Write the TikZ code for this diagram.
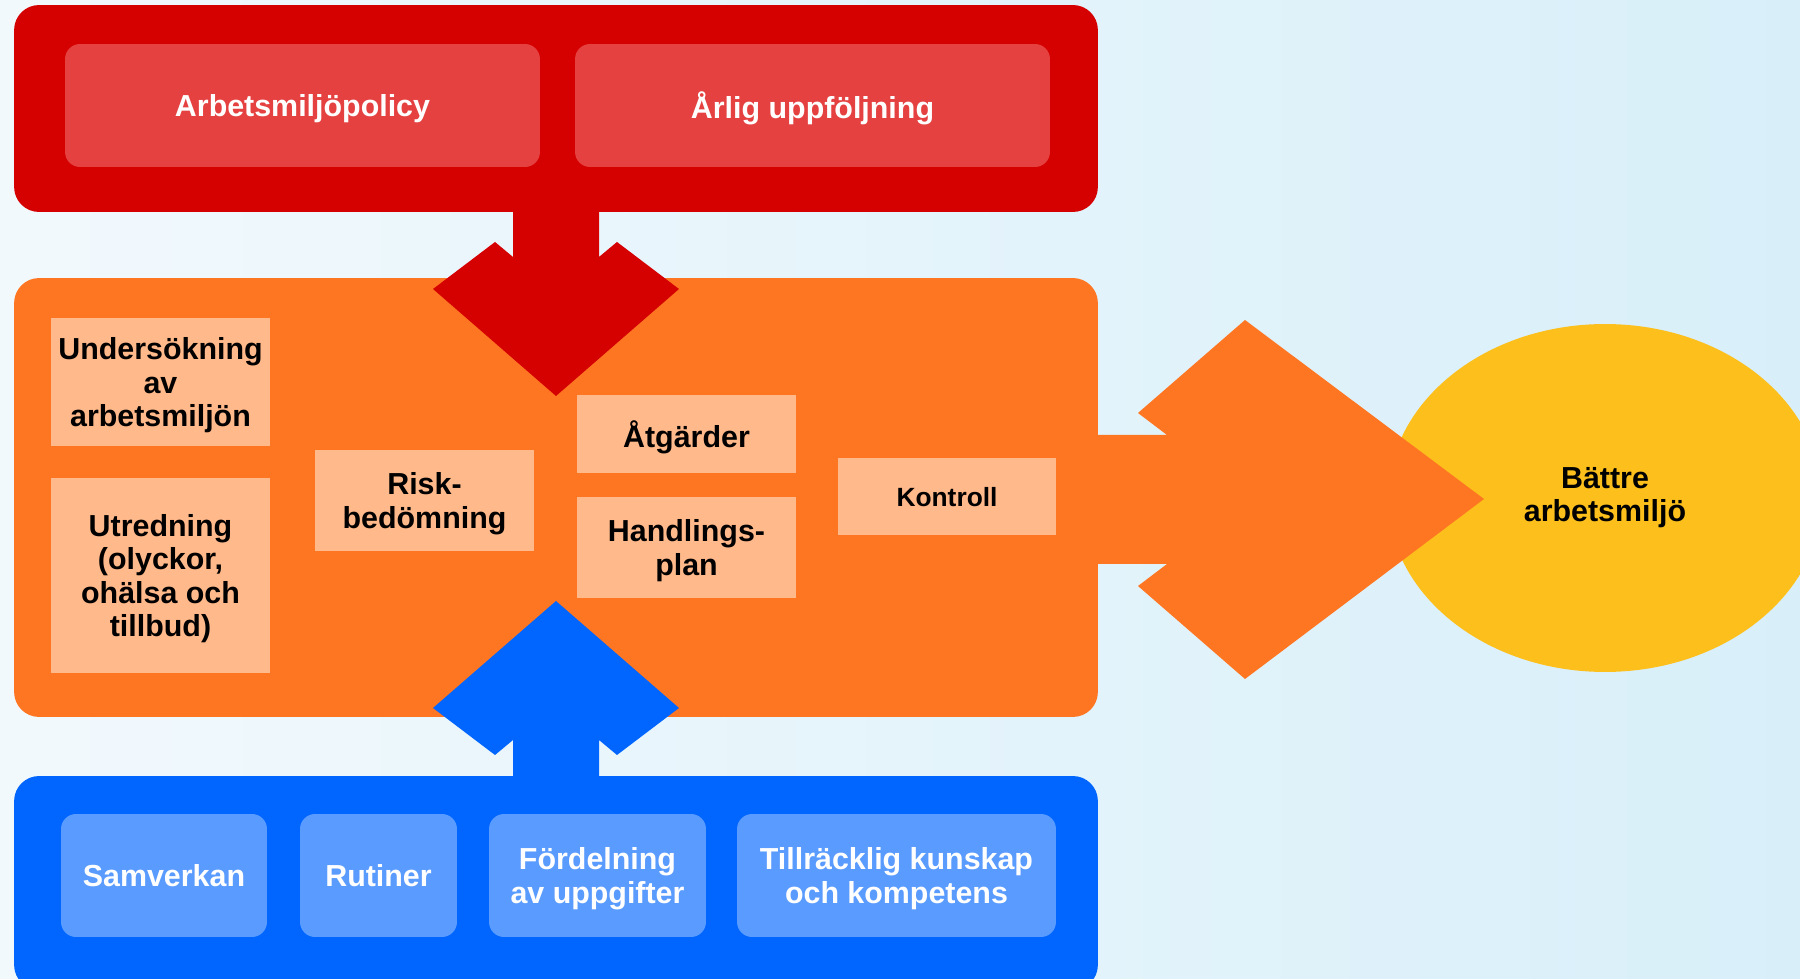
\documentclass[tikz,border=0pt]{standalone}
\usepackage{fontspec}
\setmainfont{Liberation Sans}
\usetikzlibrary{shapes.geometric}

\definecolor{rodmork}{RGB}{213,0,0}
\definecolor{rodljus}{RGB}{229,65,65}
\definecolor{orangemork}{RGB}{255,118,34}
\definecolor{persika}{RGB}{255,185,138}
\definecolor{blamork}{RGB}{0,102,255}
\definecolor{blaljus}{RGB}{90,155,255}
\definecolor{gul}{RGB}{252,191,28}
\definecolor{bgvanster}{RGB}{242,249,253}
\definecolor{bghoger}{RGB}{216,239,249}

\newcommand{\rutfont}{\bfseries\fontsize{17.3}{18.8}\selectfont}

\begin{document}
\begin{tikzpicture}[x=0.02cm, y=-0.02cm,
    ram/.style={rounded corners=0.5cm, inner sep=0pt, minimum width=21.68cm},
    ljusruta/.style={rounded corners=0.3cm, inner sep=0pt, text=white, text depth=0pt,
        font=\rutfont, align=center, minimum height=2.46cm},
    persikaruta/.style={fill=persika, inner sep=0pt, font=\rutfont, text depth=0pt,
        align=center, minimum width=4.38cm}]

    %-------------------------
    % Bakgrund
    %-------------------------
    \useasboundingbox (0,0) rectangle (1800,979);
    \clip (0,0) rectangle (1800,979);
    \shade[left color=bgvanster, right color=bghoger] (0,0) rectangle (1800,979);

    %-------------------------
    % Mal
    %-------------------------
    \node[ellipse, fill=gul, inner sep=0pt, minimum width=8.68cm,
        minimum height=6.96cm, font=\rutfont, align=center]
        (battre) at (1605,498) {Bättre\\arbetsmiljö};

    %-------------------------
    % Mitten (orange)
    %-------------------------
    \node[ram, fill=orangemork, minimum height=8.78cm] (arbete) at (556,497.5) {};

    % Pil mot malet
    \fill[orangemork] (1090,435) -- (1167,435) -- (1138,413) -- (1245,320)
        -- (1484,499) -- (1245,679) -- (1138,586) -- (1167,564) -- (1090,564) -- cycle;

    %-------------------------
    % Overst (rod)
    %-------------------------
    \node[ram, fill=rodmork, minimum height=4.14cm] (ledning) at (556,108.5) {};

    \fill[rodmork] (513,200) -- (513,257) -- (495,242) -- (433,289) -- (556,396)
        -- (679,289) -- (617,242) -- (599,257) -- (599,200) -- cycle;

    \node[ljusruta, fill=rodljus, minimum width=9.5cm] (policy) at (302.5,105.5) {Arbetsmiljöpolicy};
    \node[ljusruta, fill=rodljus, minimum width=9.5cm] (uppfoljning) at (812.5,105.5) {Årlig uppföljning};

    %-------------------------
    % Nederst (bla)
    %-------------------------
    \node[ram, fill=blamork, minimum height=4.28cm] (grund) at (556,883) {};

    \fill[blamork] (513,790) -- (513,740) -- (495,755) -- (433,708) -- (556,601)
        -- (679,708) -- (617,755) -- (599,740) -- (599,790) -- cycle;

    \node[ljusruta, fill=blaljus, minimum width=4.12cm] (samverkan) at (164,875.5) {Samverkan};
    \node[ljusruta, fill=blaljus, minimum width=3.14cm] (rutiner) at (378.5,875.5) {Rutiner};
    \node[ljusruta, fill=blaljus, minimum width=4.34cm] (fordelning) at (597.5,875.5) {Fördelning\\av uppgifter};
    \node[ljusruta, fill=blaljus, minimum width=6.38cm] (kunskap) at (896.5,875.5) {Tillräcklig kunskap\\och kompetens};

    %-------------------------
    % Rutor i mitten
    %-------------------------
    \node[persikaruta, minimum height=2.56cm] (undersokning) at (160.5,382) {Undersökning\\av\\arbetsmiljön};
    \node[persikaruta, minimum height=3.9cm] (utredning) at (160.5,575.5) {Utredning\\(olyckor,\\ohälsa och\\tillbud)};
    \node[persikaruta, minimum height=2.02cm] (risk) at (424.5,500.5) {Risk-\\bedömning};
    \node[persikaruta, minimum height=1.56cm] (atgarder) at (686.5,434) {Åtgärder};
    \node[persikaruta, minimum height=2.02cm] (handlingsplan) at (686.5,547.5) {Handlings-\\plan};
    \node[persikaruta, minimum width=4.36cm, minimum height=1.54cm,
        font=\bfseries\fontsize{15}{17}\selectfont] (kontroll) at (947,496.5) {Kontroll};

\end{tikzpicture}
\end{document}
